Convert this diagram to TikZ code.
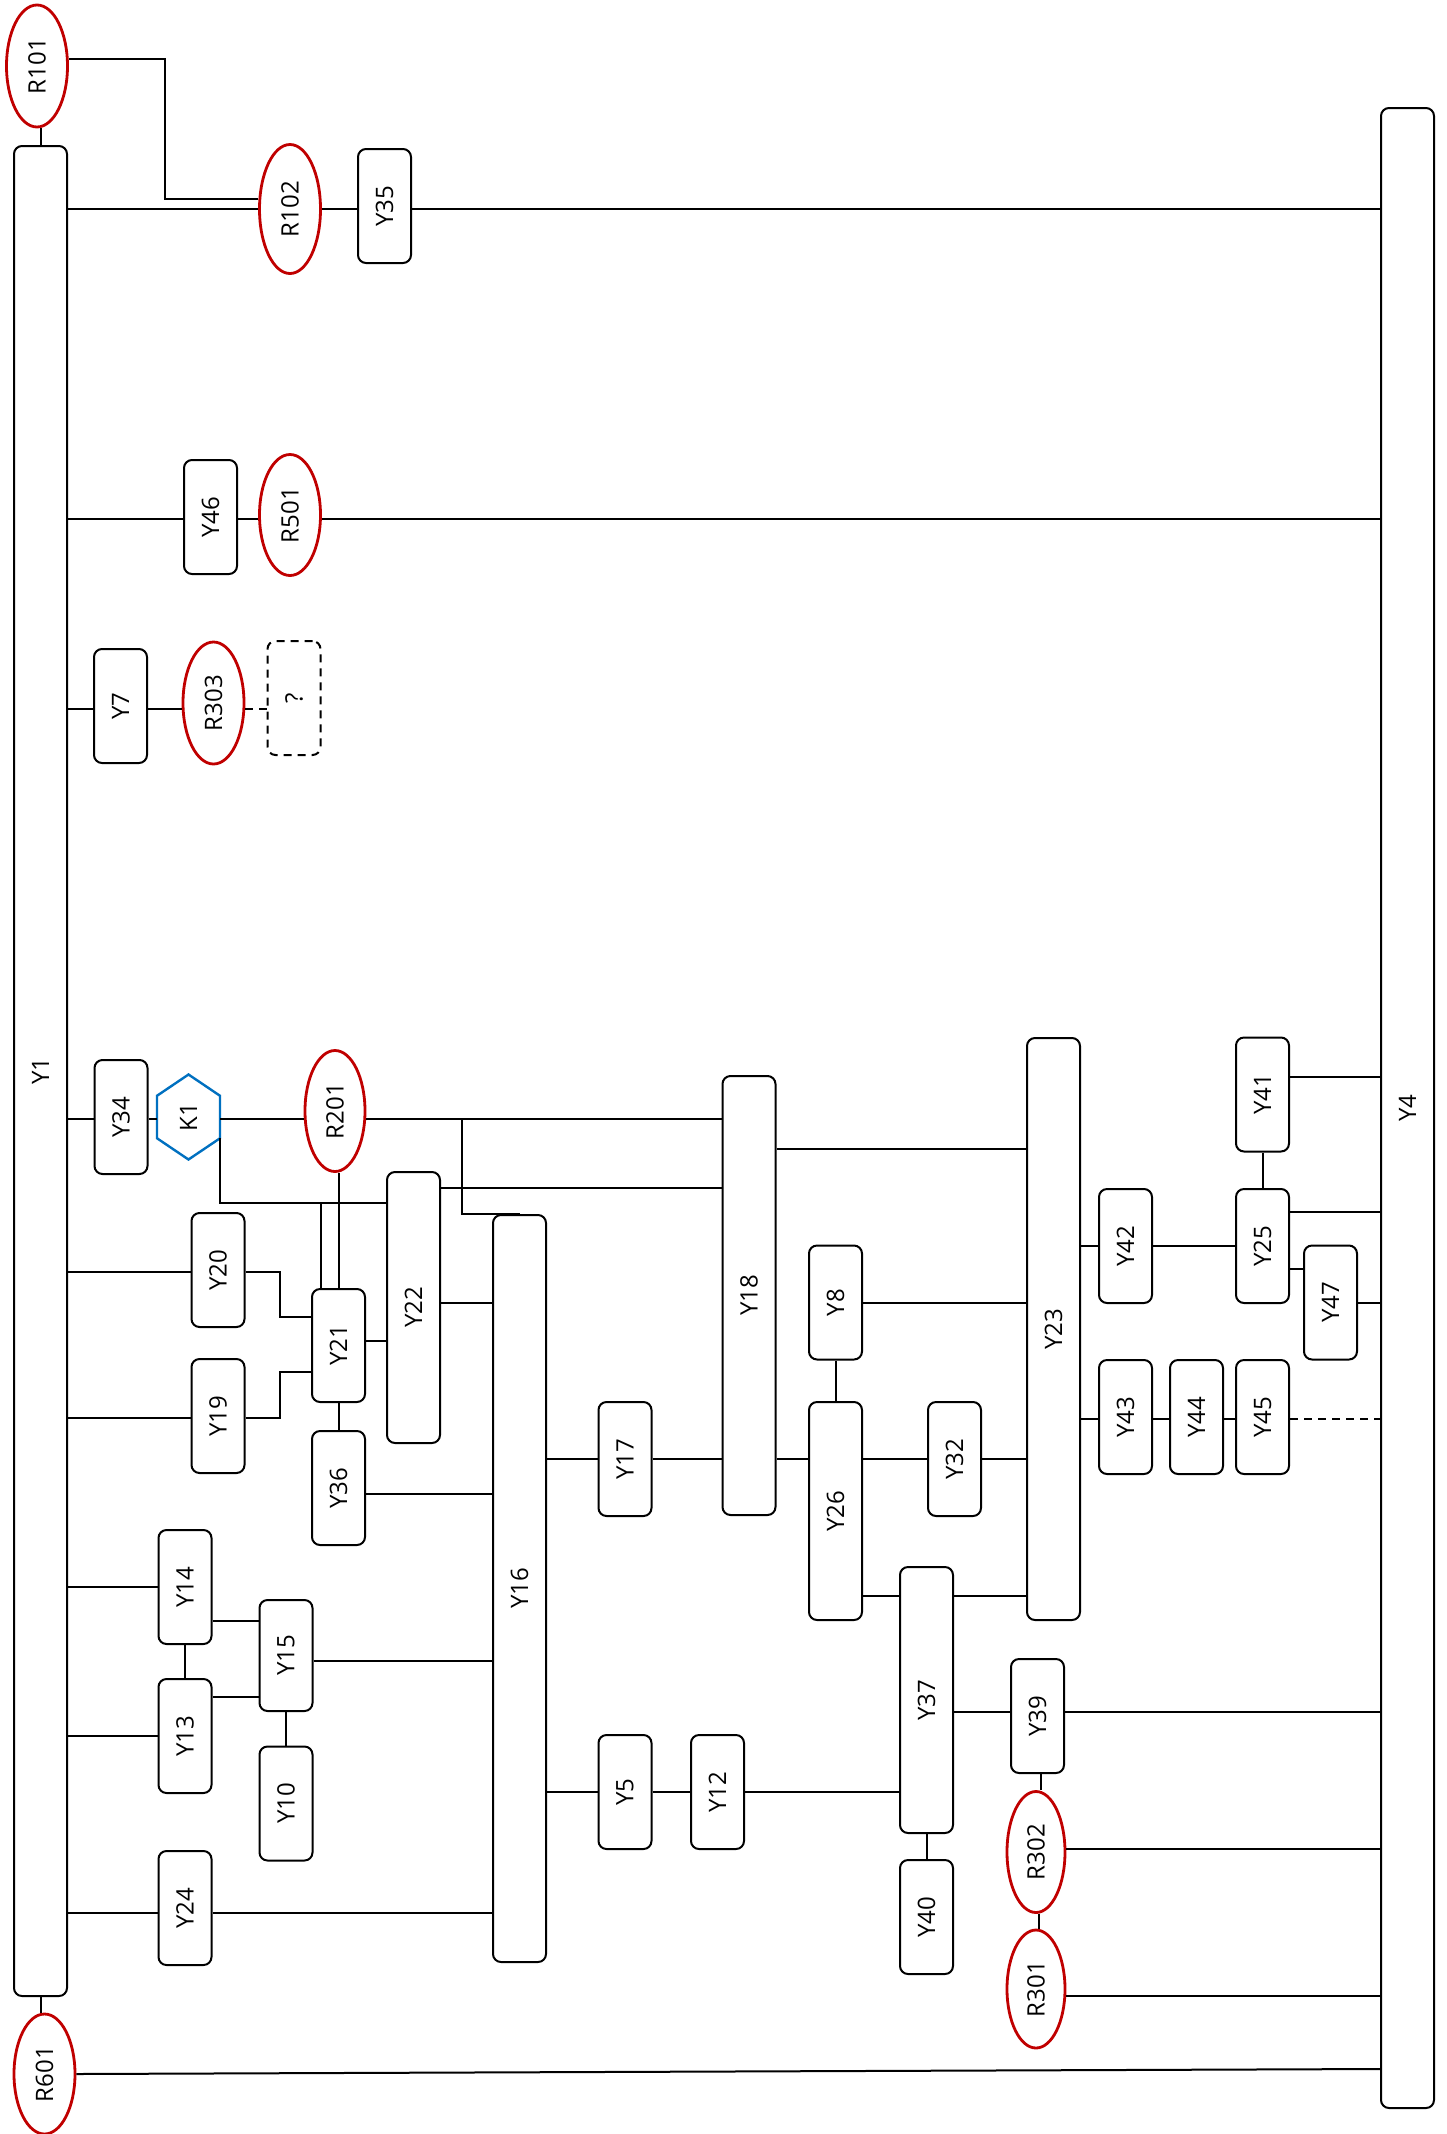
\documentclass[tikz,border=0pt]{standalone}
\usepackage{fontspec}
\setmainfont{Open Sans}
\usetikzlibrary{shapes.geometric,calc}
\definecolor{resred}{HTML}{C00000}
\definecolor{hexblue}{HTML}{0070C0}
\newcommand{\vlab}[1]{\rotatebox{90}{#1}}

\begin{document}
\begin{tikzpicture}[x=1pt,y=-1pt,line width=2pt,
  blk/.style={rectangle,draw,rounded corners=8pt,minimum width=53pt,minimum height=114pt,inner sep=0pt,font=\fontsize{24}{29}\selectfont},
  res/.style={ellipse,draw=resred,line width=2.8pt,minimum width=61pt,minimum height=122pt,inner sep=0pt,font=\fontsize{24}{29}\selectfont},
  hx/.style={rectangle,minimum width=61pt,minimum height=83pt,inner sep=0pt,font=\fontsize{24}{29}\selectfont},
  qbox/.style={blk,dash pattern=on 8pt off 6pt},
  dsh/.style={dash pattern=on 8pt off 6pt}
]
  \useasboundingbox (0,0) rectangle (1446,2134);

  \node[blk,minimum height=1850pt] (Y1) at (40.5,1071) {\vlab{Y1}};
  \node[blk,minimum height=2000pt] (Y4) at (1407.5,1108) {\vlab{Y4}};
  \node[res] (R101) at (37,66) {\vlab{R101}};
  \node[res,minimum height=129pt] (R102) at (290,209) {\vlab{R102}};
  \node[blk] (Y35) at (384.5,206) {\vlab{Y35}};
  \node[blk] (Y46) at (210.5,517) {\vlab{Y46}};
  \node[res,minimum height=121pt] (R501) at (290,515) {\vlab{R501}};
  \node[blk] (Y7) at (120.5,706) {\vlab{Y7}};
  \node[res] (R303) at (213.5,703) {\vlab{R303}};
  \node[qbox] (Q) at (294,698) {\vlab{?}};
  \node[blk] (Y34) at (121,1117) {\vlab{Y34}};
  \node[hx] (K1) at (188.5,1117) {\vlab{K1}};
  \node[res,minimum width=60pt,minimum height=121pt] (R201) at (335,1111) {\vlab{R201}};
  \node[blk] (Y20) at (218,1270) {\vlab{Y20}};
  \node[blk] (Y19) at (218,1416) {\vlab{Y19}};
  \node[blk,minimum height=113pt] (Y21) at (338.5,1345.5) {\vlab{Y21}};
  \node[blk,minimum height=271pt] (Y22) at (413.5,1307.5) {\vlab{Y22}};
  \node[blk] (Y36) at (338.5,1488) {\vlab{Y36}};
  \node[blk,minimum height=747pt] (Y16) at (519.5,1588.5) {\vlab{Y16}};
  \node[blk] (Y14) at (185,1587) {\vlab{Y14}};
  \node[blk] (Y13) at (185,1736) {\vlab{Y13}};
  \node[blk,minimum height=111pt] (Y15) at (286,1655.5) {\vlab{Y15}};
  \node[blk] (Y10) at (286,1803.5) {\vlab{Y10}};
  \node[blk] (Y24) at (185,1908) {\vlab{Y24}};
  \node[blk] (Y17) at (625,1459) {\vlab{Y17}};
  \node[blk,minimum height=439pt] (Y18) at (749,1295.5) {\vlab{Y18}};
  \node[blk] (Y8) at (835.5,1302.5) {\vlab{Y8}};
  \node[blk,minimum height=218pt] (Y26) at (835.5,1511) {\vlab{Y26}};
  \node[blk] (Y32) at (954.5,1459) {\vlab{Y32}};
  \node[blk,minimum height=582pt] (Y23) at (1053.5,1329) {\vlab{Y23}};
  \node[blk,minimum height=266pt] (Y37) at (926.5,1700) {\vlab{Y37}};
  \node[blk] (Y40) at (926.5,1917) {\vlab{Y40}};
  \node[blk] (Y5) at (625,1792) {\vlab{Y5}};
  \node[blk] (Y12) at (717.5,1792) {\vlab{Y12}};
  \node[blk] (Y39) at (1037.5,1716) {\vlab{Y39}};
  \node[res,minimum width=58pt,minimum height=121pt] (R302) at (1036,1852) {\vlab{R302}};
  \node[res,minimum width=58pt,minimum height=118pt] (R301) at (1036,1989) {\vlab{R301}};
  \node[blk] (Y41) at (1262.5,1094.5) {\vlab{Y41}};
  \node[blk] (Y42) at (1125.5,1246) {\vlab{Y42}};
  \node[blk] (Y25) at (1262.5,1246) {\vlab{Y25}};
  \node[blk] (Y47) at (1330.5,1302.5) {\vlab{Y47}};
  \node[blk] (Y43) at (1125.5,1417) {\vlab{Y43}};
  \node[blk] (Y44) at (1196.5,1417) {\vlab{Y44}};
  \node[blk] (Y45) at (1262.5,1417) {\vlab{Y45}};
  \node[res,minimum height=120pt] (R601) at (44.5,2074) {\vlab{R601}};

  \coordinate (K1ne) at ($(K1.north east)!.25!(K1.south east)$);
  \coordinate (K1se) at ($(K1.north east)!.75!(K1.south east)$);
  \coordinate (K1sw) at ($(K1.north west)!.75!(K1.south west)$);
  \coordinate (K1nw) at ($(K1.north west)!.25!(K1.south west)$);
  \draw[hexblue,line width=2.4pt] (K1.north) -- (K1ne) -- (K1se) -- (K1.south) -- (K1sw) -- (K1nw) -- cycle;

  \draw (Y1.north) -- (Y1.north |- R101.south);
  \draw ([yshift=7pt]R101.east) -- ++(96,0) |- ([yshift=10pt]R102.west);
  \draw (R102.west -| Y1.east) -- (R102.west);
  \draw (R102.east) -- (R102.east -| Y35.west);
  \draw (R102.east -| Y35.east) -- (R102.east -| Y4.west);
  \draw ([yshift=-2pt]Y46.west -| Y1.east) -- ([yshift=-2pt]Y46.west);
  \draw ([yshift=-2pt]Y46.east) -- ([yshift=-2pt]Y46.east -| R501.west);
  \draw ([yshift=-2pt]Y46.east -| R501.east) -- ([yshift=-2pt]Y46.east -| Y4.west);
  \draw ([yshift=-3pt]Y7.west -| Y1.east) -- ([yshift=-3pt]Y7.west);
  \draw ([yshift=-3pt]Y7.east) -- ([yshift=-3pt]Y7.east -| R303.west);
  \draw[dsh] ([yshift=-3pt]Y7.east -| R303.east) -- ([yshift=-3pt]Y7.east -| Q.west);
  \draw ([yshift=-2pt]Y34.west -| Y1.east) -- ([yshift=-2pt]Y34.west);
  \draw ([yshift=-2pt]Y34.east) -- ([yshift=-2pt]K1.west);
  \draw ([yshift=-2pt]K1.east) -- ([yshift=-2pt]K1.east -| R201.west);
  \draw ([yshift=-2pt]K1.east -| R201.east) -- ([yshift=-2pt]K1.east -| Y18.west);
  \draw ([yshift=-2pt]K1.east -| R201.east) -- ++(96,0) |- (Y16.north);
  \draw (K1se) |- ([yshift=-32pt]Y22.north west);
  \draw ([xshift=-18pt]Y21.north) |- ([yshift=-32pt]Y22.north west);
  \draw (Y21.north) -- (Y21.north |- R201.south);
  \draw ([yshift=-2pt]Y20.west -| Y1.east) -- ([yshift=-2pt]Y20.west);
  \draw ([yshift=-2pt]Y20.east) -- ++(34,0) |- ([yshift=29pt]Y21.west);
  \draw ([yshift=-2pt]Y19.west -| Y1.east) -- ([yshift=-2pt]Y19.west);
  \draw ([yshift=-2pt]Y19.east) -- ++(34,0) |- ([yshift=-26pt]Y21.west);
  \draw ([yshift=5pt]Y21.east) -- ([yshift=5pt]Y21.east -| Y22.west);
  \draw ([yshift=-17pt]Y22.north east) -- ([yshift=-17pt]Y22.north east -| Y18.west);
  \draw ([yshift=5pt]Y22.east) -- ([yshift=5pt]Y22.east -| Y16.west);
  \draw (Y21.south) -- (Y36.north);
  \draw ([yshift=-6pt]Y36.east) -- ([yshift=-6pt]Y36.east -| Y16.west);
  \draw (Y14.west -| Y1.east) -- (Y14.west);
  \draw (Y13.west -| Y1.east) -- (Y13.west);
  \draw (Y14.south) -- (Y13.north);
  \draw ([yshift=35pt]Y15.west) -- ([yshift=35pt]Y15.west -| Y14.east);
  \draw ([yshift=-41pt]Y15.west) -- ([yshift=-41pt]Y15.west -| Y13.east);
  \draw ([yshift=-5pt]Y15.east) -- ([yshift=-5pt]Y15.east -| Y16.west);
  \draw (Y15.south) -- (Y10.north);
  \draw ([yshift=-5pt]Y24.west -| Y1.east) -- ([yshift=-5pt]Y24.west);
  \draw ([yshift=-5pt]Y24.east) -- ([yshift=-5pt]Y24.east -| Y16.west);
  \draw (Y17.west -| Y16.east) -- (Y17.west);
  \draw (Y17.east) -- (Y17.east -| Y18.west);
  \draw (Y17.east -| Y18.east) -- (Y17.east -| Y26.west);
  \draw ([yshift=-74pt]Y18.north east) -- ([yshift=-74pt]Y18.north east -| Y23.west);
  \draw (Y8.south) -- (Y26.north);
  \draw (Y8.east) -- (Y8.east -| Y23.west);
  \draw (Y32.west -| Y26.east) -- (Y32.west);
  \draw (Y32.east) -- (Y32.east -| Y23.west);
  \draw ([yshift=-30pt]Y37.north west) -- ([yshift=-30pt]Y37.north west -| Y26.east);
  \draw ([yshift=-30pt]Y37.north east) -- ([yshift=-30pt]Y37.north east -| Y23.west);
  \draw (Y37.south) -- (Y40.north);
  \draw (Y5.west -| Y16.east) -- (Y5.west);
  \draw (Y5.east) -- (Y12.west);
  \draw (Y12.east) -- (Y12.east -| Y37.west);
  \draw ([yshift=4pt]Y39.west -| Y37.east) -- ([yshift=4pt]Y39.west);
  \draw ([yshift=4pt]Y39.east) -- ([yshift=4pt]Y39.east -| Y4.west);
  \draw ([xshift=3pt]Y39.south) -- ([xshift=3pt]Y39.south |- R302.north);
  \draw ([yshift=3pt]R302.east) -- ([yshift=3pt]R302.east -| Y4.west);
  \draw ([xshift=3pt]R302.south) -- ([xshift=3pt]R302.south |- R301.north);
  \draw ([yshift=-7pt]R301.east) -- ([yshift=-7pt]R301.east -| Y4.west);
  \draw (Y42.west -| Y23.east) -- (Y42.west);
  \draw (Y42.east) -- (Y25.west);
  \draw (Y41.south) -- (Y25.north);
  \draw ([yshift=18pt]Y41.east) -- ([yshift=18pt]Y41.east -| Y4.west);
  \draw ([yshift=-24pt]Y25.north east) -- ([yshift=-24pt]Y25.north east -| Y4.west);
  \draw ([yshift=-23pt]Y25.east) -- ([yshift=-23pt]Y25.east -| Y47.west);
  \draw (Y47.east) -- (Y47.east -| Y4.west);
  \draw ([yshift=-2pt]Y43.west -| Y23.east) -- ([yshift=-2pt]Y43.west);
  \draw ([yshift=-2pt]Y43.east) -- ([yshift=-2pt]Y44.west);
  \draw ([yshift=-2pt]Y44.east) -- ([yshift=-2pt]Y45.west);
  \draw[dsh] ([yshift=-2pt]Y45.east) -- ([yshift=-2pt]Y45.east -| Y4.west);
  \draw (Y1.south) -- (Y1.south |- R601.north);
  \draw (R601.east) -- ([yshift=5pt]R601.east -| Y4.west);
\end{tikzpicture}
\end{document}
